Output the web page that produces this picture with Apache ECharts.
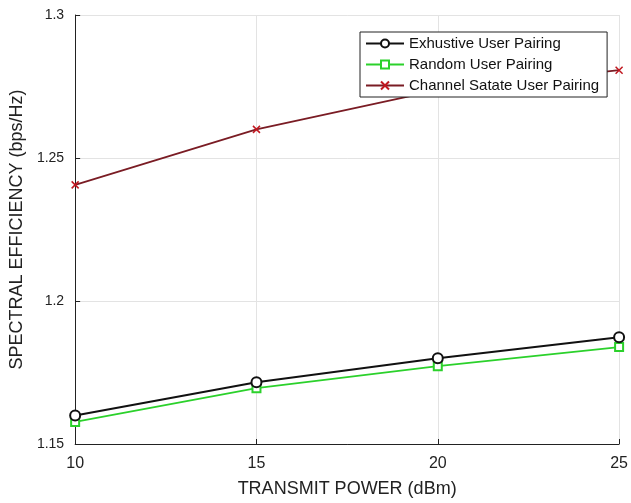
<!DOCTYPE html>
<html>
<head>
<meta charset="utf-8">
<script src="https://cdn.jsdelivr.net/npm/echarts@6/dist/echarts.min.js"></script>
<style>
  html, body { margin: 0; padding: 0; background: #fff; }
  #chart { width: 631px; height: 503px; }
</style>
</head>
<body>
<div id="chart"></div>
<script>
// Transmit power (dBm) on the x axis
const powerDbm = [10, 15, 20, 25];

// Spectral efficiency (bps/Hz) per pairing scheme
const exhaustivePairing = [1.160, 1.1716, 1.180, 1.1873];
const randomPairing = [1.1577, 1.1695, 1.1772, 1.1839];
const channelStatePairing = [1.2406, 1.260, 1.2737, 1.2807];

const seriesNames = ['Exhustive User Pairing', 'Random User Pairing', 'Channel Satate User Pairing'];

const pairs = (ys) => powerDbm.map((x, i) => [x, ys[i]]);
const crossPath = 'path://M0,0L10,10M10,0L0,10';

const chart = echarts.init(document.getElementById('chart'), null, { renderer: 'canvas' });

const fontFamily = 'Liberation Sans, Arial, sans-serif';

chart.setOption({
  animation: false,
  backgroundColor: '#fff',
  grid: { left: 74, right: 7, top: 15, bottom: 58, containLabel: false },
  legend: {
    orient: 'vertical',
    left: 360,
    top: 32,
    z: 10,
    padding: [3, 8, 3, 5],
    itemGap: 4,
    itemWidth: 38,
    itemHeight: 10,
    backgroundColor: '#fff',
    borderColor: '#222',
    borderWidth: 1,
    textStyle: { fontFamily, fontSize: 15, lineHeight: 17, color: '#111', padding: [0, 0, 0, 0] },
    data: seriesNames
  },
  xAxis: {
    type: 'value',
    min: 10,
    max: 25,
    interval: 5,
    name: 'TRANSMIT POWER (dBm)',
    nameLocation: 'middle',
    nameGap: 36,
    nameTextStyle: { fontFamily, fontSize: 18, color: '#222' },
    axisLine: { show: true, onZero: false, lineStyle: { color: '#222', width: 1 } },
    axisTick: { show: true, inside: true, length: 5, lineStyle: { color: '#222' } },
    axisLabel: { margin: 12, fontFamily, fontSize: 16, color: '#222' },
    splitLine: { show: true, lineStyle: { color: '#e3e3e3', width: 1 } }
  },
  yAxis: {
    type: 'value',
    min: 1.15,
    max: 1.3,
    interval: 0.05,
    name: 'SPECTRAL EFFICIENCY (bps/Hz)',
    nameLocation: 'middle',
    nameGap: 47,
    nameTextStyle: { fontFamily, fontSize: 18, color: '#222' },
    axisLine: { show: true, onZero: false, lineStyle: { color: '#222', width: 1 } },
    axisTick: { show: true, inside: true, length: 5, lineStyle: { color: '#222' } },
    axisLabel: {
      margin: 11, fontFamily, fontSize: 14, color: '#222',
      formatter: (v) => String(Math.round(v * 100) / 100)
    },
    splitLine: { show: true, lineStyle: { color: '#e3e3e3', width: 1 } }
  },
  series: [
    {
      name: seriesNames[0],
      type: 'line',
      data: pairs(exhaustivePairing),
      symbol: 'emptyCircle',
      symbolSize: 10,
      lineStyle: { color: '#111', width: 2 },
      itemStyle: { color: '#111', borderColor: '#111', borderWidth: 1.5 },
      z: 3
    },
    {
      name: seriesNames[1],
      type: 'line',
      data: pairs(randomPairing),
      symbol: 'emptyRect',
      symbolSize: 8,
      lineStyle: { color: '#2bd12b', width: 1.8 },
      itemStyle: { color: '#2bd12b', borderColor: '#2bd12b', borderWidth: 1.3 },
      z: 2
    },
    {
      name: seriesNames[2],
      type: 'line',
      data: pairs(channelStatePairing),
      symbol: crossPath,
      symbolSize: 7,
      lineStyle: { color: '#7a1c24', width: 1.8 },
      itemStyle: { color: '#c01820', borderColor: '#c01820', borderWidth: 1.5 },
      z: 2
    }
  ]
});
</script>
</body>
</html>
